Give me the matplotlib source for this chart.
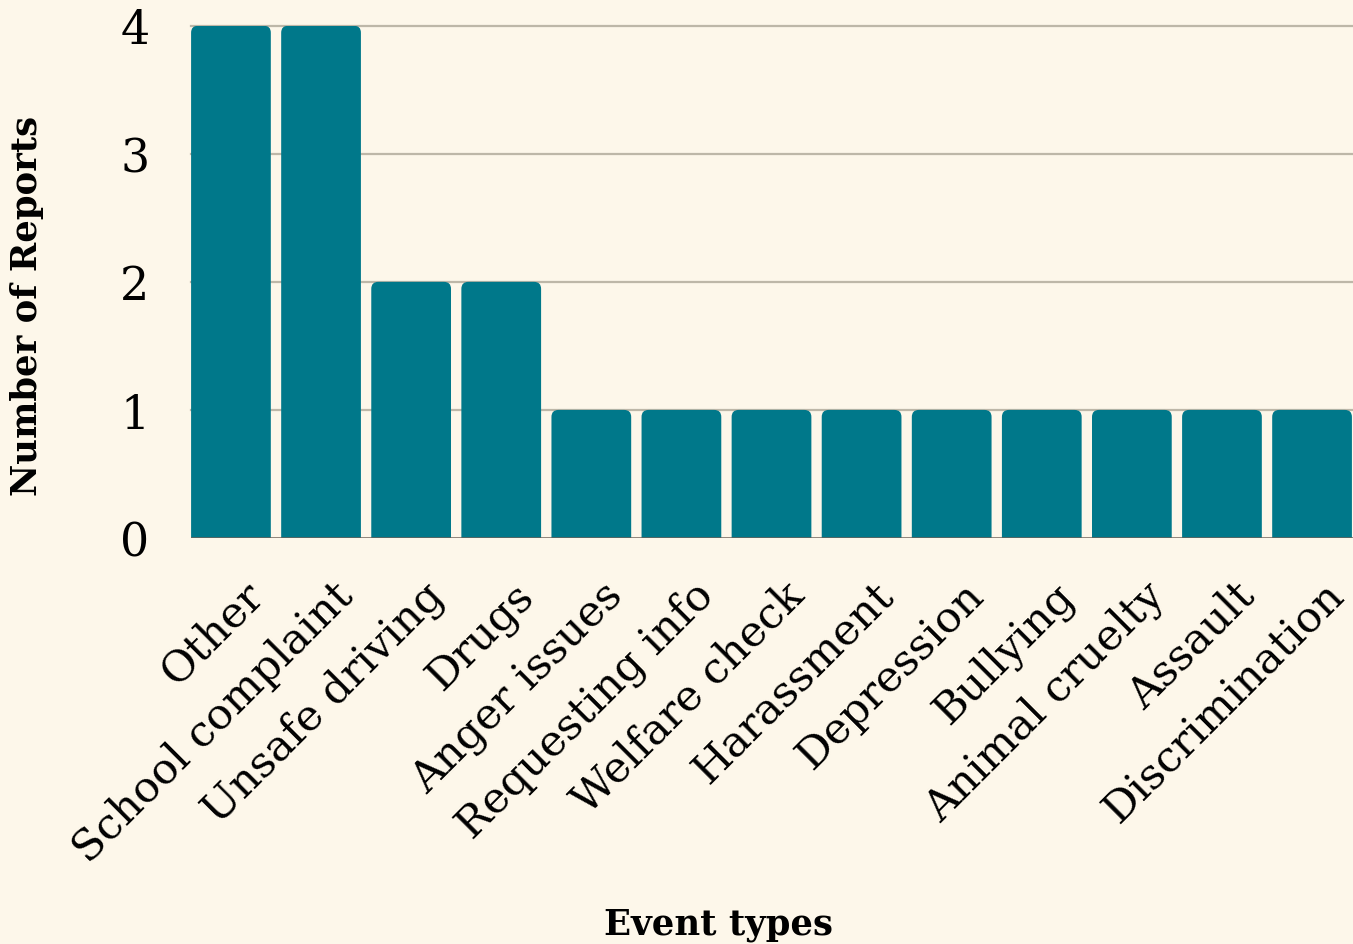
import matplotlib
matplotlib.use("Agg")
import matplotlib.pyplot as plt
import matplotlib.transforms as mtransforms
from matplotlib.patches import FancyBboxPatch

categories = ["Other", "School complaint", "Unsafe driving", "Drugs", "Anger issues",
              "Requesting info", "Welfare check", "Harassment", "Depression", "Bullying",
              "Animal cruelty", "Assault", "Discrimination"]
counts = [4, 4, 2, 2, 1, 1, 1, 1, 1, 1, 1, 1, 1]
yticks = [0, 1, 2, 3, 4]

BG = "#fdf7ea"
BAR = "#00788a"
plt.rcParams['font.family'] = ['DejaVu Serif']

fig = plt.figure(figsize=(13.53, 9.45), dpi=100, facecolor=BG)
ax = fig.add_axes([191/1353, (945-539)/945, 1162/1353, 512.3/945])
ax.set_facecolor(BG)

width = 0.885
bars = ax.bar(range(len(categories)), counts, width=width, color=BAR, zorder=3)
ax.set_xlim(-0.4435, len(categories) - 1 + 0.4545)
ax.set_ylim(0, 4)

# rounded top corners
xpp = (ax.get_xlim()[1] - ax.get_xlim()[0]) / 1162
ypp = 4 / 512.3
r = 7 * xpp
for b in bars:
    b.set_visible(False)
    x0, w, h = b.get_x(), b.get_width(), b.get_height()
    p = FancyBboxPatch((x0, -0.2), w, h + 0.2,
                       boxstyle=f"round,pad=0,rounding_size={r}",
                       mutation_aspect=ypp / xpp, facecolor=BAR, edgecolor="none",
                       zorder=3, clip_on=True)
    ax.add_patch(p)

for y in yticks[1:]:
    ax.axhline(y, color="#bdb7a8", lw=1.6, zorder=1, clip_on=False)
ax.axhline(0, color="#6e6259", lw=1.8, zorder=4)

for s in ax.spines.values():
    s.set_visible(False)

ax.set_yticks(yticks)
ax.set_yticklabels([str(v) for v in yticks], fontsize=33)
ax.tick_params(axis="y", length=0, pad=30)
ax.set_xticks(range(len(categories)))
ax.set_xticklabels(categories, fontsize=31, rotation=45, ha="right",
                   va="top", rotation_mode="anchor")
ax.tick_params(axis="x", length=0, pad=14)
offset = mtransforms.ScaledTranslation(11/100, -16/100, fig.dpi_scale_trans)
for lbl in ax.get_xticklabels():
    lbl.set_transform(lbl.get_transform() + offset)

ax.set_xlabel("Event types", fontsize=25.5, fontweight="bold")
ax.xaxis.set_label_coords((718-191)/1162, (539-925)/512.3)
ax.xaxis.label.set_va("center")
ax.set_ylabel("Number of Reports", fontsize=25.5, fontweight="bold")
ax.yaxis.set_label_coords((27-191)/1162, (539-306)/512.3)
ax.yaxis.label.set_va("center")

fig.savefig("out.png", dpi=100, facecolor=BG)
